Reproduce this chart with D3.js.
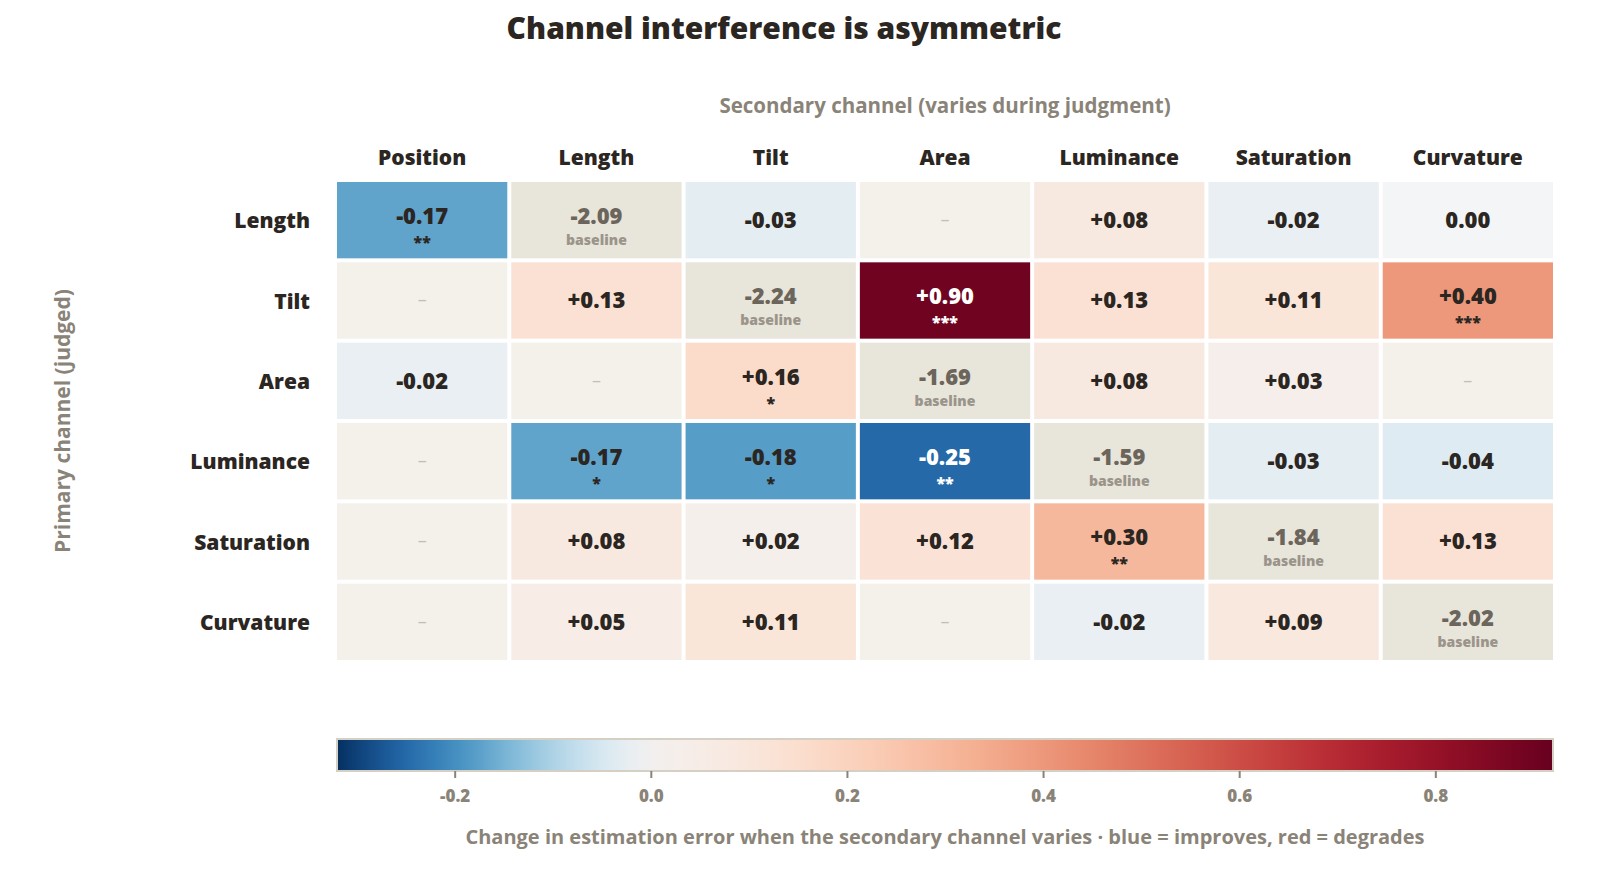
<!DOCTYPE html>
<html><head><meta charset="utf-8">
<script src="https://cdn.jsdelivr.net/npm/d3@7"></script>
<style>
html,body{margin:0;padding:0;background:#fff;overflow:hidden;width:1600px;height:891px;}
svg{display:block;font-family:"Open Sans",Lato,sans-serif;}
</style></head>
<body>
<svg id="chart" width="1600" height="891"></svg>
<script>
const rowLabels = ["Length","Tilt","Area","Luminance","Saturation","Curvature"];
const colLabels = ["Position","Length","Tilt","Area","Luminance","Saturation","Curvature"];
// null = no data; the baseline cell of each row holds the baseline error
const values = [
  [-0.17, -2.09, -0.03, null, 0.08, -0.02, 0.00],
  [null, 0.13, -2.24, 0.90, 0.13, 0.11, 0.40],
  [-0.02, null, 0.16, -1.69, 0.08, 0.03, null],
  [null, -0.17, -0.18, -0.25, -1.59, -0.03, -0.04],
  [null, 0.08, 0.02, 0.12, 0.30, -1.84, 0.13],
  [null, 0.05, 0.11, null, -0.02, 0.09, -2.02]
];
const baselineCol = [1, 2, 3, 4, 5, 6];
const stars = [
  ["**", "", "", "", "", "", ""],
  ["", "", "", "***", "", "", "***"],
  ["", "", "*", "", "", "", ""],
  ["", "*", "*", "**", "", "", ""],
  ["", "", "", "", "**", "", ""],
  ["", "", "", "", "", "", ""]
];
const colorDomain = [-0.32, 0, 0.92];
const tickValues = [-0.2, 0.0, 0.2, 0.4, 0.6, 0.8];

const svg = d3.select("#chart");
const gx0 = 337, gx1 = 1553, gy0 = 182, gy1 = 660, gap = 4;
const x = d3.scaleBand().domain(colLabels.map((d,i)=>i)).range([gx0 - gap/2, gx1 + gap/2]).paddingInner(0);
const y = d3.scaleBand().domain(rowLabels.map((d,i)=>i)).range([gy0 - gap/2, gy1 + gap/2]).paddingInner(0);
const color = d3.scaleDiverging(t => d3.interpolateRdBu(1 - t)).domain(colorDomain);

const dark = "#2b2622", gray = "#8a8378";

svg.append("text").attr("x", 784).attr("y", 39).attr("text-anchor","middle")
  .attr("font-size", 30).attr("font-weight", 800).attr("fill", dark)
  .text("Channel interference is asymmetric");

svg.append("text").attr("x", (gx0+gx1)/2).attr("y", 113).attr("text-anchor","middle")
  .attr("font-size", 20.5).attr("font-weight", 700).attr("fill", gray)
  .text("Secondary channel (varies during judgment)");

svg.append("text").attr("transform", `translate(70,${(gy0+gy1)/2}) rotate(-90)`)
  .attr("text-anchor","middle").attr("font-size", 21).attr("font-weight", 700).attr("fill", gray)
  .text("Primary channel (judged)");

svg.append("g").selectAll("text").data(colLabels).join("text")
  .attr("x", (d,i)=> x(i) + x.bandwidth()/2).attr("y", 165).attr("text-anchor","middle")
  .attr("font-size", 21).attr("font-weight", 800).attr("fill", dark).text(d=>d);

svg.append("g").selectAll("text").data(rowLabels).join("text")
  .attr("x", 310).attr("y", (d,i)=> y(i) + y.bandwidth()/2 + 8).attr("text-anchor","end")
  .attr("font-size", 21).attr("font-weight", 800).attr("fill", dark).text(d=>d);

const cells = [];
values.forEach((row, r) => row.forEach((v, c) => {
  cells.push({r, c, v, base: baselineCol[r] === c, star: stars[r][c]});
}));

const fmt = v => v === 0 ? "0.00" : (v > 0 ? "+" : "") + v.toFixed(2);

const g = svg.append("g").selectAll("g").data(cells).join("g")
  .attr("transform", d => `translate(${x(d.c) + gap/2},${y(d.r) + gap/2})`);
const cw = x.bandwidth() - gap, ch = y.bandwidth() - gap;

g.append("rect").attr("width", cw).attr("height", ch)
  .attr("fill", d => d.v === null ? "#f4f1ea" : d.base ? "#e8e5db" : (d.v === 0 ? "#f4f5f6" : color(d.v)));

g.each(function(d) {
  const s = d3.select(this);
  if (d.v === null) {
    s.append("text").attr("x", cw/2).attr("y", ch/2 + 6).attr("text-anchor","middle")
      .attr("font-size", 18).attr("fill", "#c4beb4").text("–");
    return;
  }
  const sub = d.base ? "baseline" : d.star;
  const txtCol = d.base ? "#6b655c" : (d3.lab(color(d.v)).l < 50 ? "#ffffff" : dark);
  s.append("text").attr("x", cw/2).attr("y", sub ? ch/2 + 4 : ch/2 + 8)
    .attr("text-anchor","middle").attr("font-size", 22).attr("font-weight", 800)
    .attr("fill", txtCol).text(fmt(d.v));
  if (sub) {
    s.append("text").attr("x", cw/2).attr("y", d.base ? ch/2 + 25 : ch/2 + 28)
      .attr("text-anchor","middle").attr("font-size", d.base ? 14 : 16).attr("font-weight", 800)
      .attr("fill", d.base ? "#9a948a" : txtCol).text(sub);
  }
});

// colour bar
const cbY = 739, cbH = 32;
const cx = d3.scaleLinear().domain([colorDomain[0], colorDomain[2]]).range([gx0, gx1]);
const defs = svg.append("defs");
const grad = defs.append("linearGradient").attr("id","cbgrad").attr("x1","0%").attr("x2","100%");
d3.range(0, 1.0001, 0.02).forEach(t => {
  const v = colorDomain[0] + t * (colorDomain[2] - colorDomain[0]);
  grad.append("stop").attr("offset", (t*100) + "%").attr("stop-color", color(v));
});
svg.append("rect").attr("x", gx0).attr("y", cbY).attr("width", gx1 - gx0).attr("height", cbH)
  .attr("fill", "url(#cbgrad)").attr("stroke", "#d6d0c4").attr("stroke-width", 2);

const axis = d3.axisBottom(cx).tickValues(tickValues).tickFormat(d => d.toFixed(1)).tickSize(7).tickPadding(12);
const ag = svg.append("g").attr("transform", `translate(0,${cbY + cbH})`).call(axis);
ag.select(".domain").remove();
ag.selectAll("line").attr("stroke", gray).attr("stroke-width", 2);
ag.selectAll("text").attr("font-size", 17).attr("font-weight", 800).attr("fill", gray)
  .attr("font-family", "'Open Sans', sans-serif");

svg.append("text").attr("x", (gx0+gx1)/2).attr("y", 844).attr("text-anchor","middle")
  .attr("font-size", 20).attr("font-weight", 700).attr("fill", gray)
  .text("Change in estimation error when the secondary channel varies  ·  blue = improves, red = degrades");
</script>
</body></html>
